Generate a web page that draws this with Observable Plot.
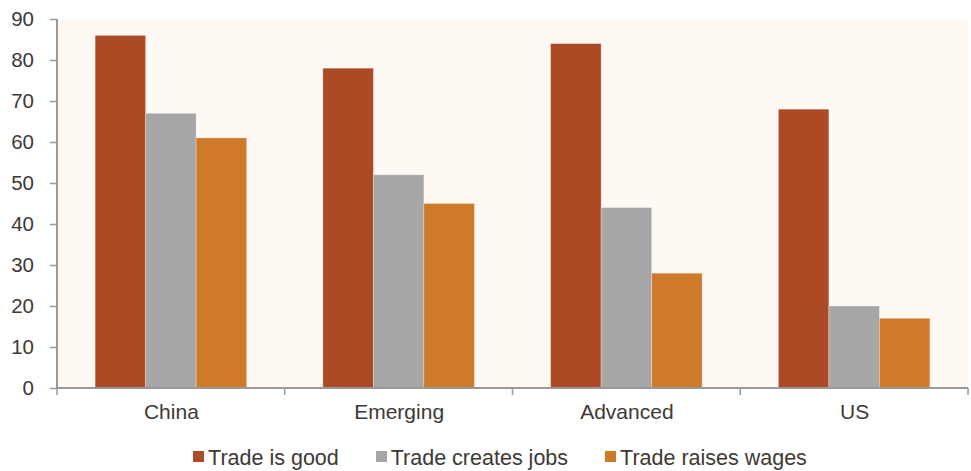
<!DOCTYPE html>
<html><head><meta charset="utf-8">
<script src="https://cdn.jsdelivr.net/npm/d3@7"></script>
<script src="https://cdn.jsdelivr.net/npm/@observablehq/plot@0.6"></script>
<style>
body{margin:0;background:#fff;font-family:"Liberation Sans",Arial,sans-serif;color:#3E3935}
#chart svg text{font-family:"Liberation Sans",Arial,sans-serif !important}
#chart svg g[aria-label="y-axis tick label"] text{font-size:20.5px !important}
#chart svg g[aria-label="fx-axis tick label"] text{font-size:21px !important}
#legend{display:flex;justify-content:center;padding-left:29px;gap:37px;font-size:21.5px;height:39px;box-sizing:border-box;padding-top:16px;align-items:flex-start;line-height:21px}
.item{display:flex;align-items:center}
.sw{width:11px;height:11px;margin-right:4px;position:relative;top:-2px}
</style></head><body><div id="chart"></div><div id="legend"></div>
<script>
const categories = ["China", "Emerging", "Advanced", "US"];
const series = ["Trade is good", "Trade creates jobs", "Trade raises wages"];
const tradeIsGood = [86, 78, 84, 68];
const tradeCreatesJobs = [67, 52, 44, 20];
const tradeRaisesWages = [61, 45, 28, 17];
const colors = ["#AB4A24", "#A6A6A6", "#CF792B"];
const yTicks = [0, 10, 20, 30, 40, 50, 60, 70, 80, 90];

const valuesBySeries = [tradeIsGood, tradeCreatesJobs, tradeRaisesWages];
const data = categories.flatMap((c, i) =>
  series.map((s, j) => ({category: c, series: s, value: valuesBySeries[j][i]})));

const axisColor = "#999999";
const textColor = "#3E3935";
const plot = Plot.plot({
  width: 971, height: 432,
  marginLeft: 57, marginRight: 3, marginTop: 19, marginBottom: 44,
  style: {fontFamily: "'Liberation Sans', Arial, sans-serif", fontSize: "20px", color: textColor, background: "transparent"},
  fx: {domain: categories, padding: 0, round: false, label: null, range: [57, 968]},
  x: {domain: series, paddingInner: 0, paddingOuter: 0.755, round: false, axis: null},
  y: {domain: [0, 90], label: null},
  color: {domain: series, range: colors},
  marks: [
    Plot.frame({fill: "#FEF9F3", stroke: "none"}),
    Plot.barY(data, {fx: "category", x: "series", y: "value", fill: "series", stroke: "#ffffff", strokeOpacity: 0.35, strokeWidth: 0.8}),
    Plot.axisY({ticks: yTicks, tickSize: 7, tickPadding: 16.5, stroke: axisColor, strokeWidth: 1.5, fill: textColor, fontSize: 20, label: null}),
    Plot.axisFx({anchor: "bottom", tickSize: 0, tickPadding: 16, fill: textColor, fontSize: 21, label: null})
  ]
});
document.getElementById("chart").appendChild(plot);

// axis lines and group-boundary ticks, positioned through Plot's scales
const fx = plot.scale("fx"), y = plot.scale("y");
const svg = d3.select(plot);
const y0 = y.apply(0), yTop = y.apply(90);
const left = fx.apply(categories[0]);
const edges = categories.map(c => fx.apply(c)).concat([fx.apply(categories[categories.length - 1]) + fx.bandwidth]);
const g = svg.append("g").attr("stroke", axisColor).attr("fill", "none");
g.append("line").attr("x1", left).attr("x2", left).attr("y1", y0 + 1).attr("y2", yTop).attr("stroke-width", 2);
g.append("line").attr("x1", left).attr("x2", edges[edges.length - 1]).attr("y1", y0).attr("y2", y0).attr("stroke-width", 2);
edges.forEach(e => g.append("line").attr("x1", e).attr("x2", e).attr("y1", y0).attr("y2", y0 + 7).attr("stroke-width", 1.5));

const legend = d3.select("#legend");
series.forEach((s, i) => {
  const it = legend.append("div").attr("class", "item");
  it.append("div").attr("class", "sw").style("background", colors[i]);
  it.append("span").text(s);
});
</script></body></html>
